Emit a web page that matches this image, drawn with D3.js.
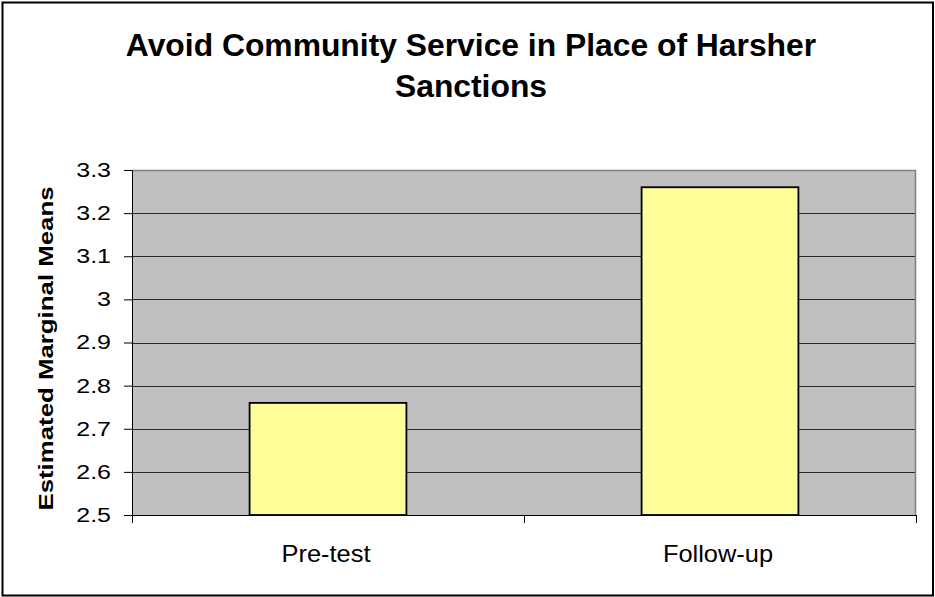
<!DOCTYPE html>
<html>
<head>
<meta charset="utf-8">
<script src="https://cdn.jsdelivr.net/npm/d3@7"></script>
<style>
  html, body { margin: 0; padding: 0; background: #fff; }
  svg { display: block; font-family: "Liberation Sans", Arial, sans-serif; }
</style>
</head>
<body>
<svg id="chart" width="935" height="597"></svg>
<script>
const categories = ["Pre-test", "Follow-up"];
const means = [2.76, 3.26];
const yTicks = [2.5, 2.6, 2.7, 2.8, 2.9, 3.0, 3.1, 3.2, 3.3];
const titleLines = ["Avoid Community Service in Place of Harsher", "Sanctions"];
const yTitle = "Estimated Marginal Means";

const svg = d3.select("#chart");
const W = 935, H = 597;
const plot = { left: 132, right: 916, top: 170, bottom: 515 };

// outer chart frame
svg.append("rect")
  .attr("x", 2.5).attr("y", 2.5)
  .attr("width", 930.5).attr("height", 593)
  .attr("fill", "#fff").attr("stroke", "#000").attr("stroke-width", 2);

const x = d3.scaleBand()
  .domain(categories)
  .range([plot.left, plot.right])
  .paddingInner(0.6)
  .paddingOuter(0.3);

const y = d3.scaleLinear()
  .domain([2.5, 3.3])
  .range([plot.bottom, plot.top]);

// plot background
svg.append("rect")
  .attr("x", plot.left).attr("y", plot.top)
  .attr("width", plot.right - plot.left).attr("height", plot.bottom - plot.top)
  .attr("fill", "#c0c0c0");

// horizontal gridlines
svg.append("g")
  .selectAll("line")
  .data(yTicks.filter(t => t > 2.5 && t < 3.3))
  .join("line")
  .attr("x1", plot.left).attr("x2", plot.right)
  .attr("y1", d => Math.round(y(d)) + 0.5).attr("y2", d => Math.round(y(d)) + 0.5)
  .attr("stroke", "#2a2a2a").attr("stroke-width", 1);

// plot border (top and right)
svg.append("path")
  .attr("d", `M${plot.left},${plot.top + 0.5}H${plot.right - 0.5}V${plot.bottom}`)
  .attr("fill", "none").attr("stroke", "#808080").attr("stroke-width", 1.5);

// bars
svg.append("g")
  .selectAll("rect")
  .data(categories.map((c, i) => ({ c, v: means[i] })))
  .join("rect")
  .attr("x", d => x(d.c))
  .attr("y", d => y(d.v))
  .attr("width", x.bandwidth())
  .attr("height", d => y(2.5) - y(d.v))
  .attr("fill", "#ffff99")
  .attr("stroke", "#000").attr("stroke-width", 1.8);

// y axis
const labelStretch = 1.25;
const yAxis = d3.axisLeft(y)
  .tickValues(yTicks)
  .tickSize(8)
  .tickFormat(d => d3.format("")(+d.toFixed(1)));
const gy = svg.append("g")
  .attr("transform", `translate(${plot.left},0)`)
  .call(yAxis);
gy.select(".domain").attr("stroke", "#000").attr("stroke-width", 1);
gy.selectAll(".tick line").attr("stroke", "#000");
gy.selectAll(".tick text")
  .attr("font-size", 20).attr("fill", "#000")
  .attr("font-family", "Liberation Sans, Arial, sans-serif")
  .attr("x", -21 / labelStretch)
  .attr("transform", `scale(${labelStretch},1)`);

// x axis: ticks at category boundaries
const boundaries = [plot.left, plot.left + (plot.right - plot.left) / 2, plot.right];
const gx = svg.append("g");
gx.append("line")
  .attr("x1", plot.left).attr("x2", plot.right)
  .attr("y1", plot.bottom + 0.5).attr("y2", plot.bottom + 0.5)
  .attr("stroke", "#000");
gx.selectAll("line.tk")
  .data(boundaries)
  .join("line").attr("class", "tk")
  .attr("x1", d => Math.round(d) + 0.5).attr("x2", d => Math.round(d) + 0.5)
  .attr("y1", plot.bottom).attr("y2", plot.bottom + 8)
  .attr("stroke", "#000");
gx.selectAll("text")
  .data(categories)
  .join("text")
  .attr("transform", d => `translate(${x(d) + x.bandwidth() / 2 - 2},562) scale(1.06,1)`)
  .attr("text-anchor", "middle")
  .attr("font-size", 24)
  .text(d => d);

// title, two centred lines
svg.append("g")
  .attr("transform", "translate(471,0) scale(1.027,1)")
  .append("text")
  .attr("text-anchor", "middle")
  .attr("font-size", 31)
  .attr("font-weight", "bold")
  .selectAll("tspan")
  .data(titleLines)
  .join("tspan")
  .attr("x", 0)
  .attr("y", (d, i) => 56 + i * 41)
  .text(d => d);

// y axis title
svg.append("text")
  .attr("transform", `translate(53,${(plot.top + plot.bottom) / 2 + 6}) rotate(-90) scale(1.23,1)`)
  .attr("text-anchor", "middle")
  .attr("font-size", 21)
  .attr("font-weight", "bold")
  .text(yTitle);
</script>
</body>
</html>
